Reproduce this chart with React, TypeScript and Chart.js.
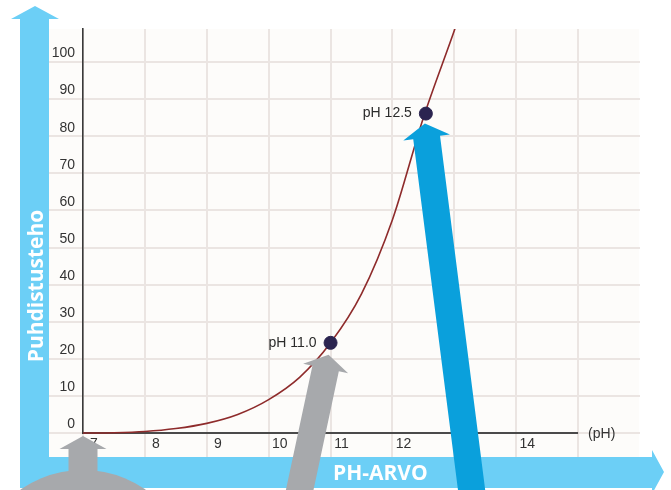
import React, { useEffect, useRef } from 'react';
import { Chart, registerables } from 'chart.js';

Chart.register(...registerables);

// Curve: cleaning efficiency (Puhdistusteho) versus pH
const curvePh = [7, 7.5, 8, 8.5, 9, 9.5, 10, 10.5, 11, 11.5, 12, 12.5, 13, 13.5];
const curveEff = [0, 0.08, 0.4, 1.2, 2.6, 5.0, 9.0, 15.0, 24.3, 37.5, 57.5, 85, 108.5, 133];

// Marked points
const markerPh = [11.0, 12.54];
const markerEff = [24.3, 86.1];
const markerLabels = ['pH 11.0', 'pH 12.5'];

// Axis ticks
const xTickValues = [7, 8, 9, 10, 11, 12, 13, 14, 15, 16];
const xTickLabels = ['7', '8', '9', '10', '11', '12', '13', '14', '', ''];
const yTickLabels = ['0', '10', '20', '30', '40', '50', '60', '70', '80', '90', '100'];

const xUnitLabel = '(pH)';
const yTitle = 'Puhdistusteho';
const xTitle = 'PH-ARVO';

const GRID = '#ebe5e2';
const BG = '#fdfcfa';
const LIGHT_BLUE = '#6ccff6';
const DARK_BLUE = '#0aa0dc';
const GREY = '#a7a9ac';
const TICK_FONT = { family: '"Liberation Sans", Arial, sans-serif', size: 14 };

function drawArrow(
  ctx: CanvasRenderingContext2D,
  tx: number, ty: number, bx: number, by: number,
  shaftW: number, headW: number, headL: number, color: string
) {
  const dx = tx - bx, dy = ty - by;
  const len = Math.hypot(dx, dy);
  const ux = dx / len, uy = dy / len;
  const px = -uy, py = ux;
  const hx = tx - ux * headL, hy = ty - uy * headL;
  ctx.beginPath();
  ctx.moveTo(tx, ty);
  ctx.lineTo(hx + px * headW / 2, hy + py * headW / 2);
  ctx.lineTo(hx + px * shaftW / 2, hy + py * shaftW / 2);
  ctx.lineTo(bx + px * shaftW / 2, by + py * shaftW / 2);
  ctx.lineTo(bx - px * shaftW / 2, by - py * shaftW / 2);
  ctx.lineTo(hx - px * shaftW / 2, hy - py * shaftW / 2);
  ctx.lineTo(hx - px * headW / 2, hy - py * headW / 2);
  ctx.closePath();
  ctx.fillStyle = color;
  ctx.fill();
}

const decorPlugin = {
  id: 'decor',
  beforeDraw(chart: any) {
    const ctx = chart.ctx as CanvasRenderingContext2D;
    const { top, right } = chart.chartArea;
    ctx.save();
    ctx.fillStyle = BG;
    ctx.fillRect(49, top, right - 1 - 49, 457 - top);
    ctx.restore();
  },
  beforeDatasetsDraw(chart: any) {
    const ctx = chart.ctx as CanvasRenderingContext2D;
    const xs = chart.scales.x, ys = chart.scales.y;
    const y0 = ys.getPixelForValue(0);
    ctx.save();
    ctx.strokeStyle = '#4a4a4a';
    ctx.lineWidth = 2;
    ctx.beginPath();
    ctx.moveTo(xs.getPixelForValue(7), y0);
    ctx.lineTo(xs.getPixelForValue(15), y0);
    ctx.stroke();
    ctx.fillStyle = '#333';
    ctx.font = `14px ${TICK_FONT.family}`;
    ctx.textAlign = 'left';
    ctx.textBaseline = 'middle';
    ctx.fillText(xUnitLabel, xs.getPixelForValue(15) + 10, y0 + 1);
    ctx.restore();
  },
  afterDatasetsDraw(chart: any) {
    const ctx = chart.ctx as CanvasRenderingContext2D;
    const xs = chart.scales.x, ys = chart.scales.y;
    ctx.save();
    ctx.fillStyle = '#2b2b2b';
    ctx.font = `14px ${TICK_FONT.family}`;
    ctx.textAlign = 'right';
    ctx.textBaseline = 'middle';
    markerPh.forEach((ph, i) => {
      ctx.fillText(markerLabels[i], xs.getPixelForValue(ph) - 14, ys.getPixelForValue(markerEff[i]));
    });
    ctx.restore();
  },
  afterDraw(chart: any) {
    const ctx = chart.ctx as CanvasRenderingContext2D;
    const xs = chart.scales.x, ys = chart.scales.y;
    ctx.save();
    // L-shaped light blue axis arrows
    ctx.fillStyle = LIGHT_BLUE;
    ctx.beginPath();
    ctx.moveTo(35, 6);
    ctx.lineTo(59, 19);
    ctx.lineTo(49, 19);
    ctx.lineTo(49, 457);
    ctx.lineTo(652, 457);
    ctx.lineTo(652, 450);
    ctx.lineTo(664, 472);
    ctx.lineTo(652, 494);
    ctx.lineTo(652, 488);
    ctx.lineTo(20, 488);
    ctx.lineTo(20, 19);
    ctx.lineTo(11, 19);
    ctx.closePath();
    ctx.fill();

    // axis titles
    ctx.fillStyle = '#ffffff';
    ctx.font = 'bold 21px "Open Sans", sans-serif';
    ctx.textBaseline = 'alphabetic';
    ctx.textAlign = 'left';
    ctx.fillText(xTitle, 333, 480);
    ctx.save();
    ctx.translate(43, 286);
    ctx.rotate(-Math.PI / 2);
    ctx.textAlign = 'center';
    ctx.fillText(yTitle, 0, 0);
    ctx.restore();

    // grey arrow at origin with dome
    const ox = xs.getPixelForValue(7);
    const oy = ys.getPixelForValue(0);
    ctx.fillStyle = GREY;
    ctx.beginPath();
    ctx.arc(ox, 579, 109, 0, Math.PI * 2);
    ctx.fill();
    drawArrow(ctx, ox, oy + 3, ox, 500, 29, 47, 13, GREY);

    // grey arrow to pH 11.0
    const p1x = xs.getPixelForValue(markerPh[0]);
    const p1y = ys.getPixelForValue(markerEff[0]);
    drawArrow(ctx, p1x - 2, p1y + 12, p1x - 33, 500, 27, 46, 14, GREY);

    // blue arrow to pH 12.5
    const p2x = xs.getPixelForValue(markerPh[1]);
    const p2y = ys.getPixelForValue(markerEff[1]);
    drawArrow(ctx, p2x - 1, p2y + 10, p2x + 47, 500, 27, 47, 14, DARK_BLUE);
    ctx.restore();
  },
};

export default function App() {
  const ref = useRef<HTMLCanvasElement>(null);
  useEffect(() => {
    const chart = new Chart(ref.current as HTMLCanvasElement, {
      type: 'line',
      data: {
        datasets: [
          {
            label: 'Puhdistusteho',
            data: curvePh.map((x, i) => ({ x, y: curveEff[i] })),
            borderColor: '#8e2b2b',
            borderWidth: 1.6,
            pointRadius: 0,
            cubicInterpolationMode: 'monotone',
            fill: false,
            clip: { left: 0, top: 0, right: 0, bottom: 4 } as any,
            order: 2,
          },
          {
            type: 'scatter',
            label: 'markers',
            data: markerPh.map((x, i) => ({ x, y: markerEff[i] })),
            backgroundColor: '#2b2450',
            borderColor: '#2b2450',
            pointRadius: 6.5,
            order: 1,
          } as any,
        ],
      },
      options: {
        responsive: false,
        devicePixelRatio: 1,
        animation: false,
        layout: { padding: { top: 29, right: 31, left: 0, bottom: 0 } },
        plugins: { legend: { display: false }, tooltip: { enabled: false } },
        scales: {
          x: {
            type: 'linear',
            min: 7,
            max: 16,
            afterFit: (s: any) => { s.height = 57; },
            afterBuildTicks: (s: any) => { s.ticks = xTickValues.map((v) => ({ value: v })); },
            border: { display: false },
            grid: {
              lineWidth: 2,
              tickLength: 24,
              color: (c: any) => (c.tick && c.tick.value === 16 ? 'rgba(0,0,0,0)' : GRID),
            },
            ticks: {
              autoSkip: false,
              maxRotation: 0,
              labelOffset: 11,
              padding: -21,
              color: '#333',
              font: TICK_FONT,
              callback: (v: any) => {
                const i = xTickValues.indexOf(Number(v));
                return i >= 0 ? xTickLabels[i] : '';
              },
            },
          },
          y: {
            type: 'linear',
            min: 0,
            max: 108.9,
            afterFit: (s: any) => { s.width = 83; },
            border: { display: true, color: '#3a3a3a', width: 1.6 },
            grid: { lineWidth: 2, tickLength: 34, color: GRID },
            ticks: {
              stepSize: 10,
              includeBounds: false,
              padding: -26,
              labelOffset: -8.5,
              color: '#333',
              font: TICK_FONT,
              callback: (v: any) => {
                const i = Math.round(Number(v) / 10);
                return yTickLabels[i] ?? '';
              },
            },
          },
        },
      },
      plugins: [decorPlugin],
    } as any);
    return () => chart.destroy();
  }, []);
  return (
    <div style={{ position: 'absolute', left: 0, top: 0, width: 671, height: 490 }}>
      <canvas ref={ref} width={671} height={490} style={{ display: 'block', width: 671, height: 490 }} />
    </div>
  );
}
